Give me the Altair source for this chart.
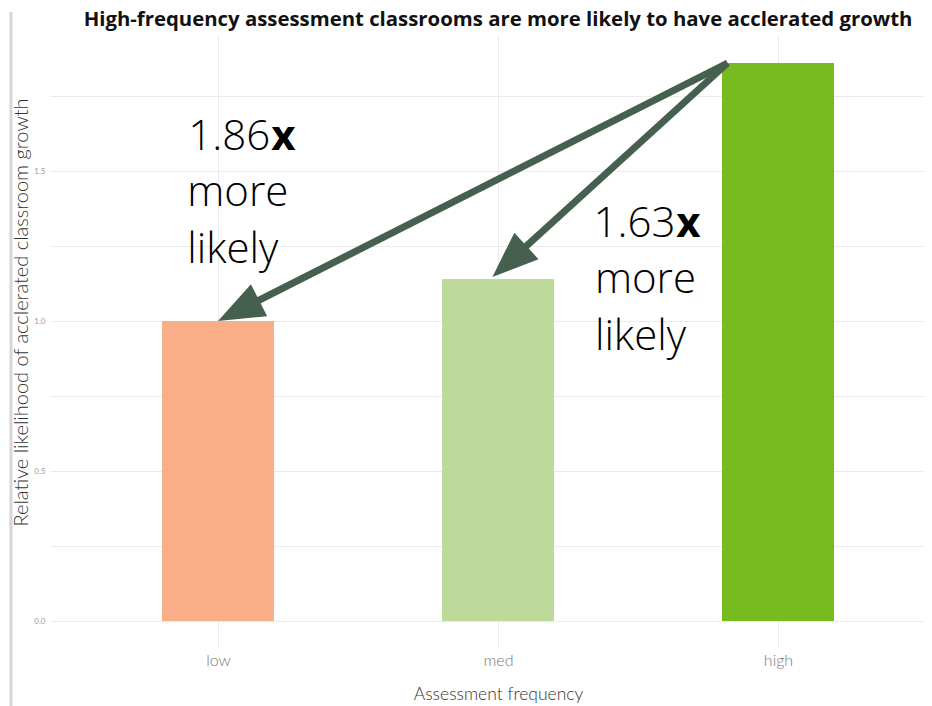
import math
import altair as alt
import pandas as pd

# ---------------- data ----------------
categories = ["low", "med", "high"]
likelihood = [1.00, 1.14, 1.86]
bar_colors = ["#F9AE87", "#BDDA9B", "#78BB20"]

title_text = "High-frequency assessment classrooms are more likely to have acclerated growth"
x_title = "Assessment frequency"
y_title = "Relative likelihood of acclerated classroom growth"

y_major = [0.0, 0.5, 1.0, 1.5]
y_minor = [0.25, 0.75, 1.25, 1.75]

# annotation: "<ratio>x / more / likely"
ann_ratio = ["1.86", "1.63"]
ann_x_left = [0.89, 2.346]       # left edge of text block (x units, category index)
ann_x_split = [1.19, 2.637]      # where the bold "x" starts
ann_y_lines = [[1.57, 1.382, 1.193], [1.28, 1.093, 0.903]]
ann_words = ["more", "likely"]

# arrows from the top of the "high" bar to the "low" and "med" bars
arrow_from = (2.82, 1.86)
arrow_to_x = [1.0, 1.98]
arrow_to_y = [1.0, 1.147]

# ---------------- layout ----------------
WIDTH, HEIGHT = 874, 614
XDOM = [0.4, 0.4 + WIDTH / 280.0]
YDOM = [-0.0933, -0.0933 + HEIGHT / 300.0]
X_PX = WIDTH / (XDOM[1] - XDOM[0])
Y_PX = HEIGHT / (YDOM[1] - YDOM[0])
FONT = "Lato"
ANN_FONT = "Open Sans"

pos = [i + 1 for i in range(len(categories))]
bars = pd.DataFrame({
    "cat": categories,
    "x0": [p - 0.2 for p in pos],
    "x1": [p + 0.2 for p in pos],
    "val": likelihood,
    "zero": [0.0] * len(pos),
})

xs = alt.Scale(domain=XDOM, nice=False, zero=False)
ys = alt.Scale(domain=YDOM, nice=False, zero=False)

label_expr = "datum.value == 1 ? 'low' : datum.value == 2 ? 'med' : datum.value == 3 ? 'high' : ''"
x_axis = alt.Axis(values=pos, labelExpr=label_expr, grid=True, gridColor="#ebebeb",
                  gridWidth=1, domain=False, ticks=False, labelFont=FONT,
                  labelFontSize=16, labelColor="#777777", labelFontWeight=300,
                  labelPadding=3, title=x_title, titleFont=FONT, titleFontSize=17.5,
                  titleFontWeight=300, titleColor="#333333",
                  titleX=448, titleY=50, titleAlign="center", titleBaseline="alphabetic")
y_axis = alt.Axis(values=y_major + y_minor,
                  labelExpr="(datum.value * 100) % 50 == 0 ? format(datum.value, '.1f') : ''",
                  grid=True, gridColor="#ebebeb", gridWidth=1, domain=False, ticks=False,
                  labelFont=FONT, labelFontSize=8, labelColor="#9a9a9a", labelPadding=5,
                  title=y_title, titleFont=FONT, titleFontSize=20, titleFontWeight=300,
                  titleColor="#333333", titleAngle=270, titleX=-29, titleY=277,
                  titleAlign="center", titleBaseline="middle")

bar_layer = alt.Chart(bars).mark_bar().encode(
    x=alt.X("x0:Q", scale=xs, axis=x_axis),
    x2="x1:Q",
    y=alt.Y("val:Q", scale=ys, axis=y_axis),
    y2="zero:Q",
    color=alt.Color("cat:N", scale=alt.Scale(domain=categories, range=bar_colors), legend=None),
)

# arrows
rows = []
heads = []
HEAD_LEN = 46
for tx, ty in zip(arrow_to_x, arrow_to_y):
    dxp = (tx - arrow_from[0]) * X_PX
    dyp = -(ty - arrow_from[1]) * Y_PX
    L = math.hypot(dxp, dyp)
    f = (HEAD_LEN * 0.55) / L
    ex = tx - (tx - arrow_from[0]) * f
    ey = ty - (ty - arrow_from[1]) * f
    rows.append({"x": arrow_from[0], "y": arrow_from[1], "x2": ex, "y2": ey})
    ang = math.degrees(math.atan2(dxp, -dyp)) % 360
    heads.append({"x": tx, "y": ty, "angle": ang})
arrows = pd.DataFrame(rows)
heads = pd.DataFrame(heads)

ARROW_COLOR = "#466050"
arrow_lines = alt.Chart(arrows).mark_rule(color=ARROW_COLOR, strokeWidth=7, strokeCap="butt").encode(
    x=alt.X("x:Q", scale=xs), y=alt.Y("y:Q", scale=ys), x2="x2:Q", y2="y2:Q")
arrow_heads = alt.Chart(heads).mark_point(
    shape="M0,0 L-0.78,2 L0.78,2 Z", filled=True, opacity=1, size=HEAD_LEN ** 2,
    color=ARROW_COLOR, strokeWidth=0).encode(
    x=alt.X("x:Q", scale=xs), y=alt.Y("y:Q", scale=ys),
    angle=alt.Angle("angle:Q", scale=None))

# annotation texts
num_rows, x_rows, word_rows = [], [], []
for i, r in enumerate(ann_ratio):
    num_rows.append({"t": r, "x": ann_x_split[i], "y": ann_y_lines[i][0]})
    x_rows.append({"t": "x", "x": ann_x_split[i], "y": ann_y_lines[i][0]})
    for j, w in enumerate(ann_words):
        word_rows.append({"t": w, "x": ann_x_left[i], "y": ann_y_lines[i][j + 1]})

def text_layer(df, align, weight, dx=0):
    return alt.Chart(pd.DataFrame(df)).mark_text(
        font=ANN_FONT, fontSize=42, fontWeight=weight, align=align, baseline="alphabetic",
        color="#000000", dx=dx).encode(
        x=alt.X("x:Q", scale=xs), y=alt.Y("y:Q", scale=ys), text="t:N")

nums = text_layer(num_rows, "right", 300, dx=-1)
xbold = text_layer(x_rows, "left", "bold")
words = text_layer(word_rows, "left", 300)

border = alt.Chart(pd.DataFrame({"v": [0]})).mark_rule(color="#d6d6d6", strokeWidth=3).encode(
    x=alt.value(-39), y=alt.value(-23), y2=alt.value(HEIGHT + 60))

title_mark = alt.Chart(pd.DataFrame({"t": [title_text]})).mark_text(
    font="Open Sans", fontSize=20.35, fontWeight="bold", color="#111111", align="center",
    baseline="alphabetic").encode(
    x=alt.value(WIDTH / 2 + 11), y=alt.value(-9), text="t:N")

chart = alt.layer(border, bar_layer, arrow_lines, arrow_heads, nums, xbold, words, title_mark).properties(
    width=WIDTH, height=HEIGHT,
    background="white",
    autosize=alt.AutoSizeParams(type="none"),
    padding={"left": 42, "top": 27, "right": 0, "bottom": 57},
).configure_view(strokeWidth=0, stroke="transparent")

chart.save("out.html", embed_options={"renderer": "svg", "actions": False})
